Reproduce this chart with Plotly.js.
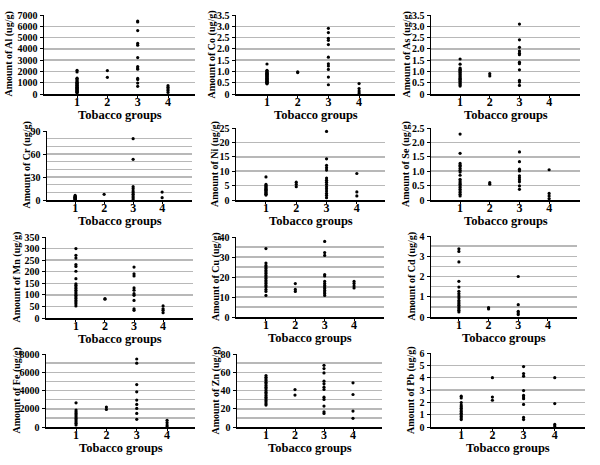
<!DOCTYPE html>
<html>
<head>
<meta charset="utf-8">
<script src="https://cdn.plot.ly/plotly-3.0.1.min.js"></script>
<style>html,body{margin:0;padding:0;background:#fff;}#chart{width:600px;height:465px;}</style>
</head>
<body>
<div id="chart"></div>
<script>
// Tobacco groups (x categories)
const groups = [1, 2, 3, 4];
const xTitle = 'Tobacco groups';

// Values per element: [group1, group2, group3, group4] (ug/g)
const al = [
  [2100, 1950, 1400, 1350, 1250, 1150, 1050, 1000, 950, 850, 800, 750, 700, 650, 600, 550, 500, 450, 400, 350, 300, 250, 200, 150, 100],
  [2080, 1480],
  [6470, 6380, 5620, 4480, 4330, 3230, 2430, 2300, 2200, 1380, 1280, 970, 680],
  [740, 600, 450, 300, 140]
];
const co = [
  [1.33, 1.05, 1.02, 0.98, 0.95, 0.92, 0.9, 0.87, 0.85, 0.82, 0.8, 0.78, 0.75, 0.72, 0.7, 0.68, 0.65, 0.62, 0.6, 0.57, 0.55, 0.52, 0.5, 0.47, 0.45],
  [0.98, 0.95],
  [2.91, 2.72, 2.47, 2.38, 2.19, 1.63, 1.34, 1.24, 1.09, 0.75, 0.41],
  [0.46, 0.24, 0.13, 0.04]
];
const as = [
  [1.55, 1.32, 1.15, 1.1, 1.05, 1.0, 0.95, 0.9, 0.85, 0.8, 0.75, 0.7, 0.65, 0.6, 0.55, 0.5, 0.45, 0.4, 0.35],
  [0.9, 0.8],
  [3.1, 2.4, 2.07, 1.9, 1.81, 1.74, 1.41, 1.34, 1.07, 0.6, 0.53, 0.38],
  []
];
const cr = [
  [6, 5, 4, 3.5, 3, 2.5, 2, 1.5, 1, 0.5],
  [7.4],
  [80, 53, 17.4, 14.8, 11.7, 9.6, 7.4, 5.2, 3, 0.9],
  [10.4, 3]
];
const ni = [
  [8.0, 5.4, 5.0, 4.7, 4.3, 4.0, 3.7, 3.4, 3.1, 2.8, 2.5, 2.2, 2.0, 1.7],
  [6.2, 5.4, 4.6],
  [23.8, 14.3, 12.0, 11.2, 10.4, 7.6, 6.9, 6.2, 5.4, 4.6, 3.9, 3.1, 2.3, 1.6, 0.8],
  [9.2, 2.8, 1.4]
];
const se = [
  [2.29, 1.62, 1.27, 1.21, 1.16, 1.09, 1.03, 0.97, 0.86, 0.72, 0.66, 0.6, 0.55, 0.49, 0.43, 0.37, 0.31, 0.26, 0.2, 0.14],
  [0.6, 0.55],
  [1.67, 1.33, 1.07, 1.01, 0.84, 0.77, 0.7, 0.63, 0.49, 0.37],
  [1.05, 0.23, 0.14, 0.05]
];
const mn = [
  [300, 271, 259, 231, 223, 202, 170, 148, 141, 134, 127, 120, 112, 105, 98, 91, 84, 76, 69, 62, 52],
  [84, 81],
  [220, 191, 182, 130, 120, 105, 98, 76, 40, 33],
  [52, 40, 33, 23]
];
const cu = [
  [34.2, 27, 25.8, 25, 24.2, 23.3, 22.5, 21.7, 20.8, 20, 19.2, 18.3, 17.5, 16.7, 15.8, 15, 13.8, 12.8, 10.8],
  [16.7, 13.8, 12.8],
  [37.8, 32.2, 30.8, 21.2, 20.5, 17.8, 16.7, 15.8, 15, 14.2, 13.3, 12.5, 11.7, 10.8],
  [17.8, 16.7, 15.5, 14.5]
];
const cd = [
  [3.37, 3.24, 2.72, 1.76, 1.48, 1.27, 1.15, 1.04, 0.94, 0.82, 0.74, 0.66, 0.58, 0.49, 0.41, 0.33, 0.25],
  [0.46, 0.4],
  [2.0, 0.61, 0.28, 0.2, 0.12],
  []
];
const fe = [
  [2650, 1850, 1670, 1490, 1310, 1130, 945, 765, 580, 400, 220],
  [2180, 1930],
  [7450, 7000, 4650, 3850, 2950, 2470, 2040, 1490, 840],
  [730, 470, 220, 40]
];
const zn = [
  [56.4, 54.5, 52.7, 50.9, 49, 47.3, 45.5, 43.6, 41.8, 40, 38.2, 36.4, 34.5, 32.7, 30.9, 29.1, 27.3, 25.5, 24],
  [41, 35],
  [67.6, 64, 59.3, 50.2, 47.3, 43.6, 41.1, 32.7, 30.2, 22.9, 16.7, 14.9],
  [48.4, 35.6, 17.5, 9.5]
];
const pb = [
  [2.5, 2.35, 1.98, 1.78, 1.65, 1.52, 1.38, 1.25, 1.12, 0.99, 0.86, 0.73, 0.6],
  [4.0, 2.43, 2.17],
  [4.9, 4.33, 4.12, 2.95, 2.56, 2.43, 2.3, 1.83, 0.78, 0.6],
  [4.0, 1.9, 0.21, 0.08]
];

// Panel layout config (pixel boxes: left, right, top, bottom)
const panels = [
  {el: 'Al', data: al, ymax: 7000, dtick: 1000, minor: 0,   dec: 0, box: [44, 195, 15, 94],   xr: [-0.09, 4.89], tx: 9},
  {el: 'Co', data: co, ymax: 3.5,  dtick: 0.5,  minor: 0,   dec: 1, box: [236, 395, 15, 94],  xr: [-0.01, 5.17], tx: 212},
  {el: 'As', data: as, ymax: 3.5,  dtick: 0.5,  minor: 0,   dec: 1, box: [431, 580, 15, 94],  xr: [0.02, 5.04],  tx: 407},
  {el: 'Cr', data: cr, ymax: 90,   dtick: 30,   minor: 10,  dec: 0, box: [47, 192, 131, 200], xr: [0.03, 5.03],  tx: 26},
  {el: 'Ni', data: ni, ymax: 25,   dtick: 5,    minor: 0,   dec: 0, box: [236, 385, 128, 200],xr: [0.01, 4.93],  tx: 215},
  {el: 'Se', data: se, ymax: 2.5,  dtick: 0.5,  minor: 0,   dec: 1, box: [431, 580, 128, 200],xr: [0.02, 5.04],  tx: 406},
  {el: 'Mn', data: mn, ymax: 350,  dtick: 50,   minor: 0,   dec: 0, box: [46, 193, 237, 318], xr: [-0.03, 5.03], tx: 16},
  {el: 'Cu', data: cu, ymax: 40,   dtick: 10,   minor: 5,   dec: 0, box: [236, 384, 237, 317],xr: [-0.02, 5.02], tx: 216},
  {el: 'Cd', data: cd, ymax: 4,    dtick: 1,    minor: 0.5, dec: 0, box: [431, 577, 236, 317],xr: [0.06, 4.98],  tx: 411},
  {el: 'Fe', data: fe, ymax: 8000, dtick: 2000, minor: 1000,dec: 0, box: [46, 195, 354, 427], xr: [0.01, 4.92],  tx: 16},
  {el: 'Zn', data: zn, ymax: 80,   dtick: 20,   minor: 10,  dec: 0, box: [237, 382, 354, 427],xr: [0.0, 5.0],    tx: 215},
  {el: 'Pb', data: pb, ymax: 6,    dtick: 1,    minor: 0,   dec: 0, box: [431, 585, 353, 427],xr: [0.03, 4.97],  tx: 411}
];

const W = 600, H = 465;
const FONT = 'Liberation Serif, Times New Roman, serif';
const GRID = '#b8b8b8';
const traces = [];
const annotations = [];
const layout = {
  width: W, height: H,
  margin: {l: 0, r: 0, t: 0, b: 0},
  paper_bgcolor: '#fff', plot_bgcolor: '#fff',
  showlegend: false,
  font: {family: FONT, color: '#000', weight: 'bold'},
  annotations: annotations
};

panels.forEach((p, i) => {
  const n = i + 1;
  const sfx = n === 1 ? '' : String(n);
  const xs = [], ys = [];
  p.data.forEach((vals, gi) => {
    vals.forEach(v => { xs.push(groups[gi]); ys.push(v); });
  });
  traces.push({
    type: 'scatter', mode: 'markers',
    x: xs, y: ys,
    xaxis: 'x' + sfx, yaxis: 'y' + sfx,
    marker: {color: '#000', size: 3.2, symbol: 'circle'},
    hoverinfo: 'x+y'
  });
  const [l, r, t, b] = p.box;
  const tickvals = [];
  for (let v = 0; v <= p.ymax + 1e-9; v += p.dtick) tickvals.push(+v.toFixed(3));
  const ticktext = tickvals.map(v => v === 0 ? '0' : v.toFixed(p.dec));
  layout['xaxis' + sfx] = {
    domain: [l / W, r / W],
    anchor: 'y' + sfx,
    range: p.xr,
    tickmode: 'array', tickvals: groups, ticktext: groups.map(String),
    showgrid: false, zeroline: false,
    showline: true, linecolor: '#000', linewidth: 1.5,
    ticks: 'outside', ticklen: 2, tickcolor: '#000', tickwidth: 1,
    ticklabelstandoff: -6,
    tickfont: {family: FONT, size: 12, color: '#000', weight: 'bold'},
    fixedrange: true
  };
  const yax = {
    domain: [1 - b / H, 1 - t / H],
    anchor: 'x' + sfx,
    range: [0, p.ymax],
    tickmode: 'array', tickvals: tickvals, ticktext: ticktext,
    showgrid: true, gridcolor: GRID, gridwidth: 1.5,
    zeroline: false,
    showline: true, linecolor: '#000', linewidth: 1.5,
    ticks: 'outside', ticklen: 3, tickcolor: '#000', tickwidth: 1,
    tickfont: {family: FONT, size: 10, color: '#000', weight: 'bold'},
    fixedrange: true
  };
  if (p.minor) {
    yax.minor = {tickmode: 'linear', tick0: 0, dtick: p.minor, showgrid: true, gridcolor: GRID, gridwidth: 1.5, ticks: ''};
  }
  layout['yaxis' + sfx] = yax;
  // x axis title
  annotations.push({
    xref: 'paper', yref: 'paper',
    x: (l + r) / 2 / W, y: 1 - (b + 21) / H,
    xanchor: 'center', yanchor: 'middle',
    text: xTitle, showarrow: false,
    font: {family: FONT, size: 12.5, color: '#000', weight: 'bold'}
  });
  // y axis title
  annotations.push({
    xref: 'paper', yref: 'paper',
    x: p.tx / W, y: 1 - ((t + b) / 2) / H,
    xanchor: 'center', yanchor: 'middle',
    textangle: -90,
    text: 'Amount of ' + p.el + ' (ug/g)', showarrow: false,
    font: {family: FONT, size: 10, color: '#000', weight: 'bold'}
  });
});

Plotly.newPlot('chart', traces, layout, {displayModeBar: false, staticPlot: true});
</script>
</body>
</html>
